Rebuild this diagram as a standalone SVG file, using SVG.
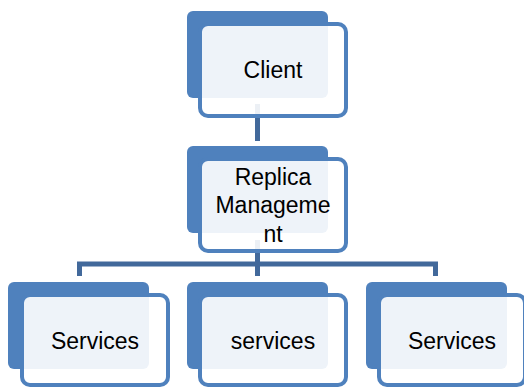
<svg xmlns="http://www.w3.org/2000/svg" width="524" height="387" viewBox="0 0 524 387">
<style>
.back{fill:#4F81BD;}
.front{fill:#FFFFFF;fill-opacity:0.9;stroke:#4F81BD;stroke-width:4;}
.conn{fill:none;stroke:#42699B;stroke-width:5;}
.lbl{font-family:"Liberation Sans",Arial,sans-serif;font-size:23px;fill:#000;text-anchor:middle;}
</style>
<rect width="524" height="387" fill="#FFFFFF"/>
<g id="connectors">
<path class="conn" d="M257.5,104 V141"/>
<path class="conn" d="M257.5,240 V276"/>
<path class="conn" d="M79.5,276 V264 H435.5 V276"/>
</g>
<g id="client">
<rect class="back" x="187" y="11" width="141" height="87" rx="6"/>
<rect class="front" x="200" y="24" width="146" height="92" rx="8"/>
<text class="lbl" x="273" y="78">Client</text>
</g>
<g id="replica">
<rect class="back" x="187" y="146" width="141" height="87" rx="6"/>
<rect class="front" x="200" y="159" width="146" height="92" rx="8"/>
<text class="lbl" x="273" y="185">Replica</text>
<text class="lbl" x="273" y="213">Manageme</text>
<text class="lbl" x="273" y="242">nt</text>
</g>
<g id="services1">
<rect class="back" x="8" y="282" width="141" height="87" rx="6"/>
<rect class="front" x="22" y="295" width="146" height="90" rx="8"/>
<text class="lbl" x="95" y="349">Services</text>
</g>
<g id="services2">
<rect class="back" x="187" y="282" width="141" height="87" rx="6"/>
<rect class="front" x="200" y="295" width="146" height="90" rx="8"/>
<text class="lbl" x="273" y="349">services</text>
</g>
<g id="services3">
<rect class="back" x="366" y="282" width="141" height="87" rx="6"/>
<rect class="front" x="379" y="295" width="146" height="90" rx="8"/>
<text class="lbl" x="452" y="349">Services</text>
</g>
</svg>
